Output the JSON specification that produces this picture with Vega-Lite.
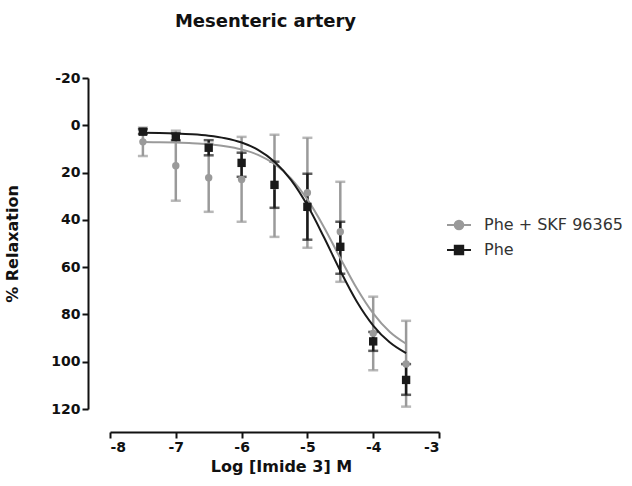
{
  "$schema": "https://vega.github.io/schema/vega-lite/v6.json",
  "width": 329,
  "height": 331,
  "autosize": {"type": "none"},
  "padding": {"left": 110, "top": 78, "right": 193, "bottom": 77},
  "background": "white",
  "title": {"text": "Mesenteric artery", "font": "DejaVu Sans", "fontSize": 18, "fontWeight": "bold", "color": "#111", "anchor": "middle", "dx": -9, "offset": 40},
  "datasets": {
    "points": [
      {"series": "Phe + SKF 96365", "logc": -7.5, "mean": 7, "lo": 1, "hi": 13},
      {"series": "Phe + SKF 96365", "logc": -7, "mean": 17.1, "lo": 2.3, "hi": 31.9},
      {"series": "Phe + SKF 96365", "logc": -6.5, "mean": 22.2, "lo": 7.8, "hi": 36.6},
      {"series": "Phe + SKF 96365", "logc": -6, "mean": 22.9, "lo": 4.9, "hi": 40.8},
      {"series": "Phe + SKF 96365", "logc": -5.5, "mean": 25.6, "lo": 4, "hi": 47.2},
      {"series": "Phe + SKF 96365", "logc": -5, "mean": 28.5, "lo": 5.3, "hi": 51.8},
      {"series": "Phe + SKF 96365", "logc": -4.5, "mean": 45, "lo": 23.9, "hi": 66.2},
      {"series": "Phe + SKF 96365", "logc": -4, "mean": 88, "lo": 72.5, "hi": 103.6},
      {"series": "Phe + SKF 96365", "logc": -3.5, "mean": 101, "lo": 82.7, "hi": 119},
      {"series": "Phe", "logc": -7.5, "mean": 2.7, "lo": 1.7, "hi": 3.7},
      {"series": "Phe", "logc": -7, "mean": 4.9, "lo": 3.4, "hi": 6.4},
      {"series": "Phe", "logc": -6.5, "mean": 9.5, "lo": 6.3, "hi": 12.7},
      {"series": "Phe", "logc": -6, "mean": 15.9, "lo": 11.6, "hi": 21.8},
      {"series": "Phe", "logc": -5.5, "mean": 25.2, "lo": 15.4, "hi": 34.9},
      {"series": "Phe", "logc": -5, "mean": 34.5, "lo": 20.5, "hi": 48.4},
      {"series": "Phe", "logc": -4.5, "mean": 51.4, "lo": 40.8, "hi": 62.8},
      {"series": "Phe", "logc": -4, "mean": 91.4, "lo": 87.4, "hi": 95.4},
      {"series": "Phe", "logc": -3.5, "mean": 107.7, "lo": 101, "hi": 114}
    ],
    "curve": [
      {"series": "Phe + SKF 96365", "logc": -7.5, "fit": 7.1},
      {"series": "Phe + SKF 96365", "logc": -7.25, "fit": 7.19},
      {"series": "Phe + SKF 96365", "logc": -7, "fit": 7.33},
      {"series": "Phe + SKF 96365", "logc": -6.75, "fit": 7.58},
      {"series": "Phe + SKF 96365", "logc": -6.5, "fit": 8.03},
      {"series": "Phe + SKF 96365", "logc": -6.25, "fit": 8.82},
      {"series": "Phe + SKF 96365", "logc": -6, "fit": 10.19},
      {"series": "Phe + SKF 96365", "logc": -5.75, "fit": 12.52},
      {"series": "Phe + SKF 96365", "logc": -5.5, "fit": 16.38},
      {"series": "Phe + SKF 96365", "logc": -5.25, "fit": 22.47},
      {"series": "Phe + SKF 96365", "logc": -5, "fit": 31.36},
      {"series": "Phe + SKF 96365", "logc": -4.75, "fit": 42.98},
      {"series": "Phe + SKF 96365", "logc": -4.5, "fit": 56.18},
      {"series": "Phe + SKF 96365", "logc": -4.25, "fit": 68.96},
      {"series": "Phe + SKF 96365", "logc": -4, "fit": 79.54},
      {"series": "Phe + SKF 96365", "logc": -3.75, "fit": 87.3},
      {"series": "Phe + SKF 96365", "logc": -3.5, "fit": 92.39},
      {"series": "Phe", "logc": -7.5, "fit": 3.14},
      {"series": "Phe", "logc": -7.25, "fit": 3.25},
      {"series": "Phe", "logc": -7, "fit": 3.45},
      {"series": "Phe", "logc": -6.75, "fit": 3.79},
      {"series": "Phe", "logc": -6.5, "fit": 4.39},
      {"series": "Phe", "logc": -6.25, "fit": 5.45},
      {"series": "Phe", "logc": -6, "fit": 7.28},
      {"series": "Phe", "logc": -5.75, "fit": 10.36},
      {"series": "Phe", "logc": -5.5, "fit": 15.38},
      {"series": "Phe", "logc": -5.25, "fit": 23.08},
      {"series": "Phe", "logc": -5, "fit": 33.87},
      {"series": "Phe", "logc": -4.75, "fit": 47.27},
      {"series": "Phe", "logc": -4.5, "fit": 61.55},
      {"series": "Phe", "logc": -4.25, "fit": 74.53},
      {"series": "Phe", "logc": -4, "fit": 84.7},
      {"series": "Phe", "logc": -3.75, "fit": 91.8},
      {"series": "Phe", "logc": -3.5, "fit": 96.39}
    ]
  },
  "encoding": {
    "x": {"field": "logc", "type": "quantitative", "scale": {"domain": [-8, -3], "nice": false, "zero": false},
      "axis": {"title": "Log [Imide 3] M", "values": [-8, -7, -6, -5, -4, -3], "offset": 23, "titleFontSize": 16, "titlePadding": 4, "titleX": 171, "labelExpr": "toString(datum.value)"}}
  },
  "layer": [
    {
      "data": {"name": "points"},
      "mark": {"type": "rule", "strokeWidth": 2.5},
      "encoding": {
        "y": {"field": "lo", "type": "quantitative", "scale": {"domain": [-20, 120], "reverse": true, "nice": false, "zero": false},
          "axis": {"title": "% Relaxation", "titleFontSize": 16, "titlePadding": 30, "offset": 22, "values": [-20, 0, 20, 40, 60, 80, 100, 120], "labelExpr": "toString(datum.value)"}},
        "y2": {"field": "hi"},
        "color": {"field": "series", "type": "nominal", "scale": {"domain": ["Phe + SKF 96365", "Phe"], "range": ["#9a9a9a", "#1a1a1a"]}}
      }
    },
    {
      "data": {"name": "points"},
      "mark": {"type": "tick", "orient": "horizontal", "size": 10, "thickness": 2.5},
      "encoding": {
        "y": {"field": "lo", "type": "quantitative"},
        "color": {"field": "series", "type": "nominal"}
      }
    },
    {
      "data": {"name": "points"},
      "mark": {"type": "tick", "orient": "horizontal", "size": 10, "thickness": 2.5},
      "encoding": {
        "y": {"field": "hi", "type": "quantitative"},
        "color": {"field": "series", "type": "nominal"}
      }
    },
    {
      "data": {"name": "curve"},
      "mark": {"type": "line", "strokeWidth": 2, "interpolate": "monotone"},
      "encoding": {
        "y": {"field": "fit", "type": "quantitative"},
        "color": {"field": "series", "type": "nominal",
          "legend": {"orient": "none", "legendX": 336, "legendY": 134, "title": null, "padding": 0,
            "symbolSize": 576, "symbolStrokeWidth": 2, "labelFontSize": 16, "labelFont": "DejaVu Sans",
            "labelColor": "#333", "labelFontWeight": "normal", "labelOffset": 12, "rowPadding": 3,
            "encode": {"symbols": {"update": {
              "shape": {"signal": "datum.value === 'Phe' ? 'M-1,0L1,0M-0.35,-0.35H0.35V0.35H-0.35Z' : 'M-1,0L1,0M-0.36,0A0.36,0.36,0,1,0,0.36,0A0.36,0.36,0,1,0,-0.36,0Z'"},
              "fill": {"signal": "scale('color', datum.value)"},
              "stroke": {"signal": "scale('color', datum.value)"},
              "strokeWidth": {"value": 2},
              "opacity": {"value": 1}
            }}}}}
      }
    },
    {
      "data": {"name": "points"},
      "transform": [{"filter": "datum.series === 'Phe + SKF 96365'"}],
      "mark": {"type": "point", "shape": "circle", "filled": true, "size": 55, "opacity": 1},
      "encoding": {
        "y": {"field": "mean", "type": "quantitative"},
        "color": {"field": "series", "type": "nominal"}
      }
    },
    {
      "data": {"name": "points"},
      "transform": [{"filter": "datum.series === 'Phe'"}],
      "mark": {"type": "point", "shape": "square", "filled": true, "size": 70, "opacity": 1},
      "encoding": {
        "y": {"field": "mean", "type": "quantitative"},
        "color": {"field": "series", "type": "nominal"}
      }
    }
  ],
  "config": {
    "view": {"stroke": null},
    "font": "DejaVu Sans",
    "axis": {"grid": false, "domainColor": "#111", "domainWidth": 2, "tickColor": "#111", "tickWidth": 2, "tickSize": 6,
      "labelFont": "DejaVu Sans", "labelFontSize": 14, "labelFontWeight": "bold", "labelColor": "#111", "labelPadding": 2,
      "titleFont": "DejaVu Sans", "titleFontWeight": "bold", "titleColor": "#111"}
  }
}
